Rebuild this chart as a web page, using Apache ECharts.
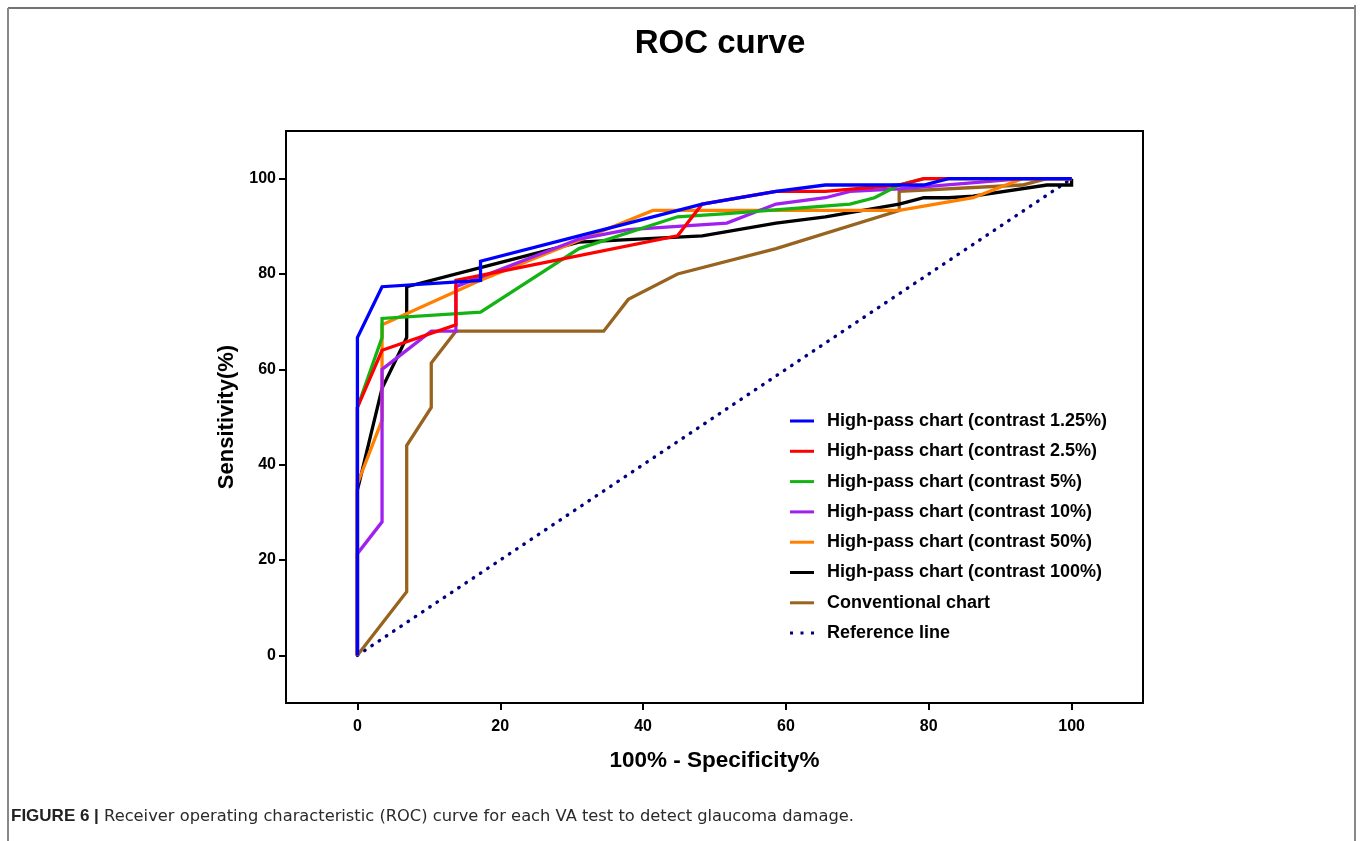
<!DOCTYPE html>
<html><head><meta charset="utf-8">
<script src="https://cdn.jsdelivr.net/npm/echarts@6/dist/echarts.min.js"></script>
<style>html,body{margin:0;padding:0;background:#fff}#c{width:1362px;height:841px}</style>
</head><body><div id="c"></div>
<script>
const FONT = '"Liberation Sans", Arial, Helvetica, sans-serif';
const CAPTION_FONT = '"DejaVu Sans", "Liberation Sans", sans-serif';
const titleText = 'ROC curve';
const xName = '100% - Specificity%';
const yName = 'Sensitivity(%)';
const tickValues = [0, 20, 40, 60, 80, 100];
const captionBold = 'FIGURE 6 |';
const captionText = 'Receiver operating characteristic (ROC) curve for each VA test to detect glaucoma damage.';

const seriesNames = [
  'High-pass chart (contrast 1.25%)',
  'High-pass chart (contrast 2.5%)',
  'High-pass chart (contrast 5%)',
  'High-pass chart (contrast 10%)',
  'High-pass chart (contrast 50%)',
  'High-pass chart (contrast 100%)',
  'Conventional chart',
  'Reference line'
];

const hp125 = [[0,0],[0,66.67],[3.45,77.33],[17.24,78.67],[17.24,82.67],[31.03,88],[48.28,94.67],[58.62,97.33],[65.52,98.67],[79.31,98.67],[82.76,100],[100,100]];
const hp25 = [[0,0],[0,52],[3.45,64],[13.79,69.33],[13.79,78.67],[44.83,88],[48.28,94.67],[58.62,97.33],[65.52,97.33],[75.86,98.67],[79.31,100],[100,100]];
const hp5 = [[0,0],[0,52],[3.45,66.67],[3.45,70.67],[17.24,72],[31.03,85.33],[44.83,92],[51.72,92.67],[68.97,94.67],[72.41,96],[75.86,98.67],[79.31,100],[100,100]];
const hp10 = [[0,0],[0,21.33],[3.45,28],[3.45,60],[10.34,68],[13.79,68],[13.79,77.33],[31.03,87.33],[37.93,89.33],[51.72,90.67],[58.62,94.67],[65.52,96],[68.97,97.33],[75.86,97.87],[93.1,100],[100,100]];
const hp50 = [[0,0],[0,36],[3.45,49.33],[3.45,69.33],[17.24,78.67],[41.38,93.33],[75.86,93.33],[86.21,96],[93.1,100],[100,100]];
const hp100 = [[0,0],[0,34.67],[3.45,56],[6.9,66.67],[6.9,77.33],[17.24,81.33],[31.03,86.67],[48.28,88],[58.62,90.67],[65.52,92],[75.86,94.67],[79.31,96],[82.76,96],[86.21,96.33],[96.55,98.67],[100,98.67],[100,100]];
const conventional = [[0,0],[6.9,13.33],[6.9,44],[10.34,52],[10.34,61.33],[13.79,68],[34.48,68],[37.93,74.67],[44.83,80],[58.62,85.33],[75.86,93.33],[75.86,97.33],[93.1,98.67],[96.55,100],[100,100]];
const reference = [[0,0],[100,100]];

const colors = ['#0000FF','#FF0000','#12B312','#A020F0','#FF8000','#000000','#98631F','#000080'];
const dataSets = [hp125, hp25, hp5, hp10, hp50, hp100, conventional, reference];

const chart = echarts.init(document.getElementById('c'), null, {renderer:'canvas'});

const series = [];
const drawOrder = [7,6,5,4,3,2,1,0];
drawOrder.forEach(i => {
  const isRef = i === 7;
  series.push({
    name: seriesNames[i],
    type: 'line',
    data: dataSets[i],
    symbol: 'none',
    color: colors[i],
    itemStyle: {color: colors[i]},
    lineStyle: isRef ? {color: colors[i], width: 3.4, type: [0.5, 8.2], cap: 'round'} : {color: colors[i], width: 3.3, join: 'miter'},
    emphasis: {disabled: true},
    silent: true,
    z: 2
  });
});

const dotsIcon = 'path://M0,0h3v3h-3z M10.5,0h3v3h-3z M21,0h3v3h-3z';
const legendData = seriesNames.map((n, i) => ({name: n, icon: i === 7 ? dotsIcon : 'rect'}));

chart.setOption({
  animation: false,
  backgroundColor: '#ffffff',
  title: {
    text: titleText,
    left: 715,
    textAlign: 'center',
    top: 22,
    textStyle: {fontFamily: FONT, fontSize: 33, fontWeight: 'bold', color: '#000'}
  },
  grid: {left: 286, top: 131, width: 857, height: 572, show: true, borderColor: '#000', borderWidth: 2, backgroundColor: 'transparent'},
  xAxis: {
    type: 'value', min: -10, max: 110,
    name: xName, nameLocation: 'middle', nameGap: 46,
    nameTextStyle: {fontFamily: FONT, fontSize: 22.5, fontWeight: 'bold', color: '#000'},
    axisLine: {show: true, onZero: false, lineStyle: {color: '#000', width: 2}},
    axisTick: {show: true, customValues: tickValues, length: 7, lineStyle: {color: '#000', width: 2}},
    axisLabel: {customValues: tickValues, margin: 16, fontFamily: FONT, fontSize: 16, fontWeight: 'bold', color: '#000'},
    splitLine: {show: false}
  },
  yAxis: {
    type: 'value', min: -10, max: 110,
    name: yName, nameLocation: 'middle', nameGap: 40,
    nameTextStyle: {fontFamily: FONT, fontSize: 22, fontWeight: 'bold', color: '#000'},
    axisLine: {show: true, onZero: false, lineStyle: {color: '#000', width: 2}},
    axisTick: {show: true, customValues: tickValues, length: 7, lineStyle: {color: '#000', width: 2}},
    axisLabel: {customValues: tickValues, margin: 10, fontFamily: FONT, fontSize: 16, fontWeight: 'bold', color: '#000'},
    splitLine: {show: false}
  },
  legend: {
    data: legendData,
    orient: 'vertical',
    left: 790, top: 411,
    padding: 0,
    itemWidth: 24, itemHeight: 3,
    itemGap: 10.3,
    selectedMode: false,
    itemStyle: {borderWidth: 0},
    textStyle: {fontFamily: FONT, fontSize: 18, fontWeight: 'bold', color: '#000', lineHeight: 20, padding: [0,0,0,8]}
  },
  graphic: [
    {type: 'line', shape: {x1: 8, y1: 8, x2: 1356, y2: 8}, style: {stroke: '#444', lineWidth: 1.5}, silent: true},
    {type: 'line', shape: {x1: 8, y1: 8, x2: 8, y2: 841}, style: {stroke: '#888', lineWidth: 2}, silent: true},
    {type: 'line', shape: {x1: 1355, y1: 5, x2: 1355, y2: 841}, style: {stroke: '#888', lineWidth: 2}, silent: true},
    {type: 'text', left: 11, top: 808, silent: true,
     style: {text: '{b|' + captionBold + '} ' + captionText,
       fontFamily: CAPTION_FONT, fontSize: 16.3, fill: '#2a2a2a',
       rich: {b: {fontFamily: FONT, fontSize: 17, fontWeight: 'bold', fill: '#222', color: '#222'}}}}
  ],
  series: series
});
</script></body></html>
